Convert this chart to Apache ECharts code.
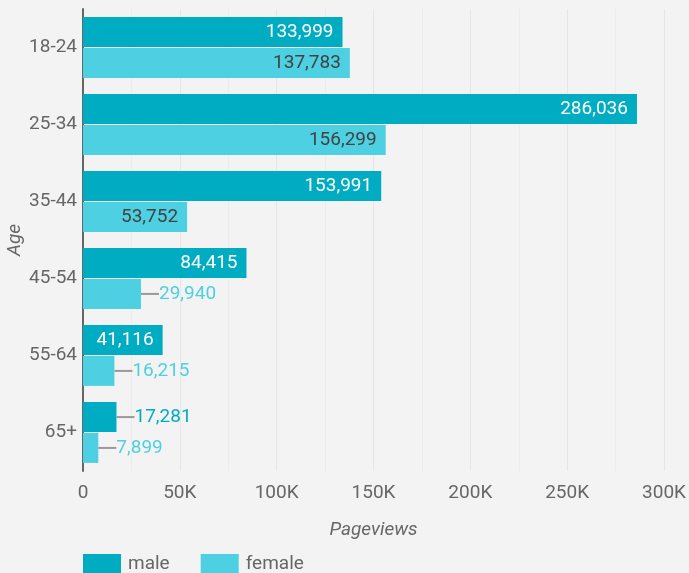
<!DOCTYPE html>
<html>
<head>
<meta charset="utf-8">
<script src="https://cdn.jsdelivr.net/npm/echarts@6/dist/echarts.min.js"></script>
<style>html,body{margin:0;padding:0;background:#f3f3f3}#c{width:689px;height:573px}</style>
</head>
<body>
<div id="c"></div>
<script>
const categories = ['18-24', '25-34', '35-44', '45-54', '55-64', '65+'];
const male = [133999, 286036, 153991, 84415, 41116, 17281];
const female = [137783, 156299, 53752, 29940, 16215, 7899];
const outsideThreshold = 30000;

const fmt = v => v.toLocaleString('en-US');

function makeData(values, color, insideColor) {
  return values.map(v => {
    const outside = v <= outsideThreshold;
    return {
      value: v,
      label: outside
        ? {
            position: 'right', distance: 0,
            formatter: p => '{l| }{v|' + fmt(p.value) + '}',
            rich: {
              l: { width: 18, height: 2, backgroundColor: '#999999' },
              v: { color: color, fontSize: 19, fontFamily: 'Roboto' }
            }
          }
        : { position: 'insideRight', distance: 9, color: insideColor }
    };
  });
}

const chart = echarts.init(document.getElementById('c'));
chart.setOption({
  backgroundColor: '#f3f3f3',
  textStyle: { fontFamily: 'Roboto' },
  grid: { left: 83, right: 25, top: 9, bottom: 102, containLabel: false, outerBoundsMode: 'none' },
  legend: {
    top: 549, left: 78, itemWidth: 38, itemHeight: 20, itemGap: 31,
    icon: 'rect',
    textStyle: { fontSize: 19, color: '#666', fontFamily: 'Roboto', padding: [0, 0, 0, 2] },
    data: ['male', 'female']
  },
  xAxis: {
    type: 'value', min: 0, max: 300000, interval: 50000,
    name: 'Pageviews', nameLocation: 'middle', nameGap: 50, nameMoveOverlap: false,
    nameTextStyle: { fontStyle: 'italic', fontSize: 19, color: '#666' },
    axisLine: { show: false }, axisTick: { show: false },
    axisLabel: { fontSize: 19, color: '#666', margin: 13,
      formatter: v => v === 0 ? '0' : (v / 1000) + 'K' },
    splitLine: { show: true, lineStyle: { color: '#e6e6e6', width: 1 } },
    minorTick: { show: false, splitNumber: 2 },
    minorSplitLine: { show: true, lineStyle: { color: '#ececec', width: 1 } }
  },
  yAxis: {
    type: 'category', data: categories, inverse: true,
    name: 'Age', nameLocation: 'middle', nameGap: 58, nameMoveOverlap: false,
    nameTextStyle: { fontStyle: 'italic', fontSize: 19, color: '#666' },
    axisLine: { show: true, lineStyle: { color: '#666', width: 2 } },
    axisTick: { show: false },
    axisLabel: { fontSize: 19, color: '#666', margin: 6 },
    splitLine: { show: false }
  },
  series: [
    {
      name: 'male', type: 'bar', data: makeData(male, '#00acc1', '#ffffff'),
      itemStyle: { color: '#00acc1' },
      barGap: '3%', barCategoryGap: '21%',
      label: { show: true, fontSize: 19, formatter: p => fmt(p.value) }
    },
    {
      name: 'female', type: 'bar', data: makeData(female, '#4dd0e1', '#424242'),
      itemStyle: { color: '#4dd0e1' },
      barGap: '3%', barCategoryGap: '21%',
      label: { show: true, fontSize: 19, formatter: p => fmt(p.value) }
    }
  ]
});
</script>
</body>
</html>
